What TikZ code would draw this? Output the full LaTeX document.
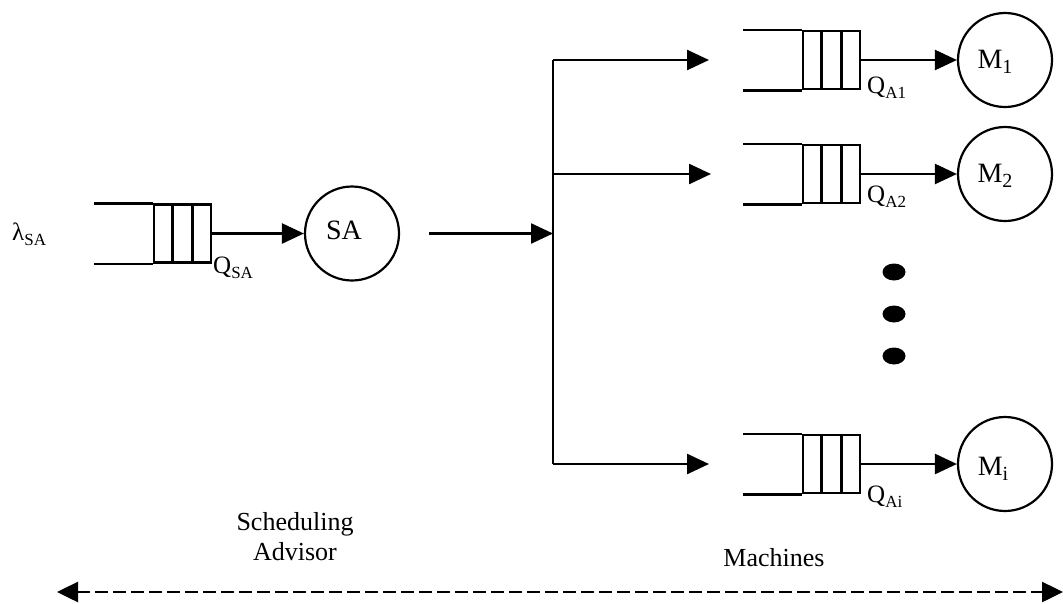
\documentclass[tikz,border=0pt]{standalone}
\usepackage{fontspec}
\setmainfont{Liberation Serif}
\usetikzlibrary{arrows.meta,calc,shapes.geometric}

\tikzset{
  line/.style={line width=2.5pt},
  arr/.style={line, -{Triangle[length=22pt,width=20pt]}},
  server/.style={circle, draw, line width=2.2pt, minimum size=94pt, inner sep=0pt},
  qbox/.style={rectangle, draw, line width=2.5pt, minimum width=57pt, minimum height=58pt, inner sep=0pt},
  qlabel/.style={anchor=west, inner sep=0pt, font=\fontsize{25}{25}\selectfont},
  mlabel/.style={font=\fontsize{28}{28}\selectfont},
  caption/.style={align=center, font=\fontsize{26}{30}\selectfont},
  dot/.style={ellipse, fill=black, minimum width=23pt, minimum height=17pt, inner sep=0pt},
}

% subscript set small and just below the baseline
\newcommand{\lowsub}[1]{\raisebox{-0.2em}{\fontsize{17}{17}\selectfont #1}}
\newcommand{\msub}[1]{\raisebox{-0.2em}{\fontsize{20}{20}\selectfont #1}}

% queue with three cells and an open tail to the left
\newcommand{\queuecells}[1]{%
  \draw[line] ($(#1.north west)!1/3!(#1.north east)$) -- ($(#1.south west)!1/3!(#1.south east)$);
  \draw[line] ($(#1.north west)!2/3!(#1.north east)$) -- ($(#1.south west)!2/3!(#1.south east)$);
  \draw[line] (#1.north west) -- ++(-59pt,0);
  \draw[line] (#1.south west) -- ++(-59pt,0);
}

\begin{document}
\begin{tikzpicture}[x=1pt,y=-1pt]
  \useasboundingbox (0,0) rectangle (1063,603);

  % scheduling advisor
  \node[anchor=west, inner sep=0pt, font=\fontsize{25}{25}\selectfont] (lam) at (12,234) {λ\lowsub{SA}};
  \node[qbox] (qsa) at (182.5,233.5) {};
  \queuecells{qsa}
  \node[qlabel] (lqsa) at (213,268) {Q\lowsub{SA}};
  \node[server, label={[mlabel, xshift=-8pt, yshift=3pt]center:SA}] (sa) at (352,233.5) {};
  \draw[arr] (qsa.east) -- (sa.west);

  % dispatcher fan-out
  \coordinate (j) at (553,233.5);
  \coordinate (b1) at (553,60);
  \coordinate (b2) at (553,174);
  \coordinate (bi) at (553,464);
  \coordinate (e1) at (709,60);
  \coordinate (e2) at (711,174);
  \coordinate (ei) at (709,464);
  \draw[arr, shorten <=29pt] (sa.east) -- (j);
  \draw[line] (b1) -- (bi);
  \draw[arr] (b1) -- (e1);
  \draw[arr] (b2) -- (e2);
  \draw[arr] (bi) -- (ei);

  % machines
  \node[qbox] (q1) at (831.5,60) {};
  \queuecells{q1}
  \node[qlabel] (lq1) at (867,88) {Q\lowsub{A1}};
  \node[server, label={[mlabel, xshift=-10pt, yshift=-2pt]center:M\msub{1}}] (m1) at (1005,60) {};
  \draw[arr] (q1.east) -- (m1.west);

  \node[qbox] (q2) at (831.5,174) {};
  \queuecells{q2}
  \node[qlabel] (lq2) at (867,197) {Q\lowsub{A2}};
  \node[server, label={[mlabel, xshift=-10pt, yshift=-2pt]center:M\msub{2}}] (m2) at (1005,174) {};
  \draw[arr] (q2.east) -- (m2.west);

  \node[dot] (d1) at (894,272) {};
  \node[dot] (d2) at (894,314) {};
  \node[dot] (d3) at (894,356) {};

  \node[qbox] (qi) at (831.5,464) {};
  \queuecells{qi}
  \node[qlabel] (lqi) at (867,497) {Q\lowsub{Ai}};
  \node[server, label={[mlabel, xshift=-12pt, yshift=-5pt]center:M\msub{i}}] (mi) at (1005,464) {};
  \draw[arr] (qi.east) -- (mi.west);

  % span of the two parts
  \node[caption] (adv) at (295,537) {Scheduling\\Advisor};
  \node[caption] (mach) at (774,558) {Machines};
  \coordinate (sl) at (57,592);
  \coordinate (sr) at (1063,592);
  \draw[line, dash pattern=on 13pt off 5pt, {Triangle[length=21pt,width=20pt]}-{Triangle[length=21pt,width=20pt]}] (sl) -- (sr);
\end{tikzpicture}
\end{document}
